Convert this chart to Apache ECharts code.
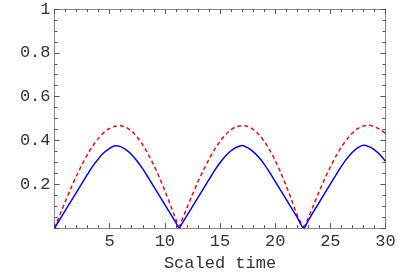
<!DOCTYPE html>
<html>
<head>
<meta charset="utf-8">
<script src="https://cdn.jsdelivr.net/npm/echarts@6/dist/echarts.min.js"></script>
<style>
html,body{margin:0;padding:0;background:#fff;}
#chart{width:414px;height:277px;}
</style>
</head>
<body>
<div id="chart"></div>
<script>
// Scaled time sample points
const times = [0,0.5,1,1.5,2,2.5,3,3.5,4,4.5,5,5.5,6,6.5,7,7.5,8,8.5,9,9.5,10,10.5,11,11.3,
  11.5,12,12.5,13,13.5,14,14.5,15,15.5,16,16.5,17,17.5,18,18.5,19,19.5,20,20.5,21,21.5,22,22.6,
  23,23.5,24,24.5,25,25.5,26,26.5,27,27.5,28,28.5,29,29.5,30];
// Blue solid curve values
const blueVals = [0,0.041,0.082,0.123,0.164,0.205,0.246,0.285,0.318,0.345,0.364,0.376,0.372,0.357,0.335,0.305,0.270,0.230,0.189,0.148,0.107,0.066,0.025,0,
  0.016,0.057,0.098,0.139,0.180,0.221,0.262,0.298,0.329,0.353,0.369,0.377,0.367,0.349,0.324,0.292,0.254,0.213,0.172,0.131,0.090,0.049,0,
  0.035,0.077,0.118,0.160,0.201,0.242,0.282,0.317,0.346,0.367,0.378,0.372,0.357,0.335,0.305];
// Red dashed curve values
const redVals = [0,0.062,0.124,0.183,0.239,0.290,0.337,0.377,0.410,0.437,0.455,0.465,0.467,0.459,0.442,0.415,0.380,0.337,0.287,0.232,0.171,0.107,0.040,0.008,
  0.030,0.092,0.153,0.211,0.264,0.314,0.358,0.395,0.426,0.449,0.463,0.467,0.464,0.451,0.428,0.397,0.357,0.309,0.254,0.193,0.128,0.060,0.008,
  0.046,0.108,0.168,0.226,0.279,0.327,0.370,0.405,0.434,0.455,0.466,0.469,0.463,0.450,0.432];
const xTickLabels = ['5','10','15','20','25','30'];
const yTickLabels = ['0.2','0.4','0.6','0.8','1'];

const chart = echarts.init(document.getElementById('chart'), null, {renderer:'canvas'});
const frameColor = '#888888';
const tickColor = '#555555';
const textColor = '#333333';
const font = '"Liberation Mono", "DejaVu Sans Mono", monospace';
function pair(xs, ys){ return xs.map((x,i)=>[x, ys[i]]); }
function baseAxis(extra){
  return Object.assign({
    axisLine:{show:true, onZero:false, lineStyle:{color:frameColor, width:1}},
    axisTick:{show:true, inside:true, length:5, lineStyle:{color:tickColor, width:1}},
    minorTick:{show:true, length:3, lineStyle:{color:tickColor, width:1}},
    splitLine:{show:false},
    minorSplitLine:{show:false}
  }, extra);
}
const option = {
  animation:false,
  backgroundColor:'#ffffff',
  grid:{left:54.5, right:28.5, top:9, bottom:47, containLabel:false},
  xAxis:[
    baseAxis({type:'value', min:0, max:30, interval:5, position:'bottom',
      minorTick:{show:true, splitNumber:5, length:3, lineStyle:{color:tickColor, width:1}},
      axisLabel:{show:true, margin:5, color:textColor, fontFamily:font, fontSize:17,
        formatter:v=> xTickLabels.includes(String(v)) ? String(v) : ''},
      name:'Scaled time', nameLocation:'middle', nameGap:25,
      nameTextStyle:{color:textColor, fontFamily:font, fontSize:17}}),
    baseAxis({type:'value', min:0, max:30, interval:5, position:'top',
      minorTick:{show:true, splitNumber:5, length:3, lineStyle:{color:tickColor, width:1}},
      axisLabel:{show:false}})
  ],
  yAxis:[
    baseAxis({type:'value', min:0, max:1, interval:0.2, position:'left',
      minorTick:{show:true, splitNumber:4, length:3, lineStyle:{color:tickColor, width:1}},
      axisLabel:{show:true, margin:4, color:textColor, fontFamily:font, fontSize:17,
        formatter:v=>{ const s = String(Math.round(v*10)/10); return yTickLabels.includes(s) ? s : ''; }}}),
    baseAxis({type:'value', min:0, max:1, interval:0.2, position:'right',
      minorTick:{show:true, splitNumber:4, length:3, lineStyle:{color:tickColor, width:1}},
      axisLabel:{show:false}})
  ],
  series:[
    {type:'line', xAxisIndex:0, yAxisIndex:0, data:pair(times, redVals), smooth:0.3, showSymbol:false,
      lineStyle:{color:'#ff0000', width:1.5, type:[4,3]}, z:3},
    {type:'line', xAxisIndex:0, yAxisIndex:0, data:pair(times, blueVals), smooth:0.3, showSymbol:false,
      lineStyle:{color:'#0000ff', width:1.5}, z:4}
  ]
};
chart.setOption(option);
</script>
</body>
</html>
